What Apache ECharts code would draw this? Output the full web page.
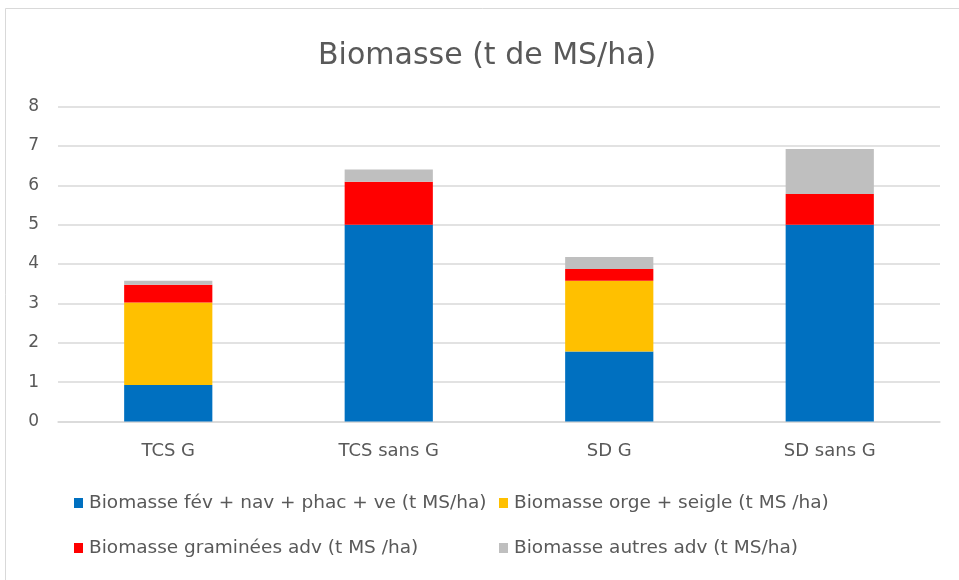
<!DOCTYPE html>
<html>
<head>
<meta charset="utf-8">
<script src="https://cdn.jsdelivr.net/npm/echarts@6/dist/echarts.min.js"></script>
<style>
html,body{margin:0;padding:0;background:#fff;}
#chart{width:959px;height:580px;}
</style>
</head>
<body>
<div id="chart"></div>
<script>
const categories = ['TCS G', 'TCS sans G', 'SD G', 'SD sans G'];
const seriesNames = [
  'Biomasse fév + nav + phac + ve (t MS/ha)',
  'Biomasse orge + seigle (t MS /ha)',
  'Biomasse graminées adv (t MS /ha)',
  'Biomasse autres adv (t MS/ha)'
];
const feveNav = [0.93, 5.0, 1.78, 5.0];
const orgeSeigle = [2.09, 0, 1.795, 0];
const graminees = [0.455, 1.09, 0.3, 0.78];
const autres = [0.1, 0.31, 0.305, 1.14];
const yTicks = [0, 1, 2, 3, 4, 5, 6, 7, 8];

const colors = ['#0070C0', '#FFC000', '#FF0000', '#BFBFBF'];
const values = [feveNav, orgeSeigle, graminees, autres];
const FONT = '"DejaVu Sans", "Open Sans", sans-serif';

const chart = echarts.init(document.getElementById('chart'));
const legendPos = [
  {left: 74, top: 493},
  {left: 499, top: 493},
  {left: 74, top: 538},
  {left: 499, top: 538}
];
chart.setOption({
  animation: false,
  backgroundColor: '#fff',
  title: {
    text: 'Biomasse (t de MS/ha)',
    left: 318,
    top: 41,
    padding: 0,
    textStyle: {fontFamily: FONT, fontSize: 30, fontWeight: 'normal', color: '#595959'}
  },
  graphic: [{
    type: 'rect', silent: true, z: -1,
    shape: {x: 5.5, y: 8.5, width: 1000, height: 1000},
    style: {fill: 'none', stroke: '#d9d9d9', lineWidth: 1}
  }],
  legend: legendPos.map((p, i) => ({
    data: [seriesNames[i]],
    left: p.left, top: p.top,
    padding: 0,
    itemWidth: 9, itemHeight: 10, itemGap: 8,
    icon: 'rect',
    textStyle: {fontFamily: FONT, fontSize: 18.5, lineHeight: 20, color: '#595959', padding: [0, 0, 0, 1]}
  })),
  grid: {left: 58, right: 19, top: 106.5, bottom: 158.5, containLabel: false},
  xAxis: {
    type: 'category',
    data: categories,
    axisLine: {show: true, lineStyle: {color: '#d9d9d9', width: 1.5}},
    axisTick: {show: false},
    axisLabel: {fontFamily: FONT, fontSize: 18, lineHeight: 20, color: '#595959', margin: 20}
  },
  yAxis: {
    type: 'value',
    min: 0, max: 8, interval: 1,
    axisLine: {show: false},
    axisTick: {show: false},
    splitLine: {lineStyle: {color: '#d9d9d9', width: 1.5}},
    axisLabel: {
      fontFamily: FONT, fontSize: 17, color: '#595959', margin: 19,
      formatter: v => yTicks.includes(v) ? String(v) : ''
    }
  },
  series: values.map((d, i) => ({
    name: seriesNames[i],
    type: 'bar',
    stack: 'total',
    data: d,
    barWidth: '40%',
    itemStyle: {color: colors[i]}
  }))
});
</script>
</body>
</html>
